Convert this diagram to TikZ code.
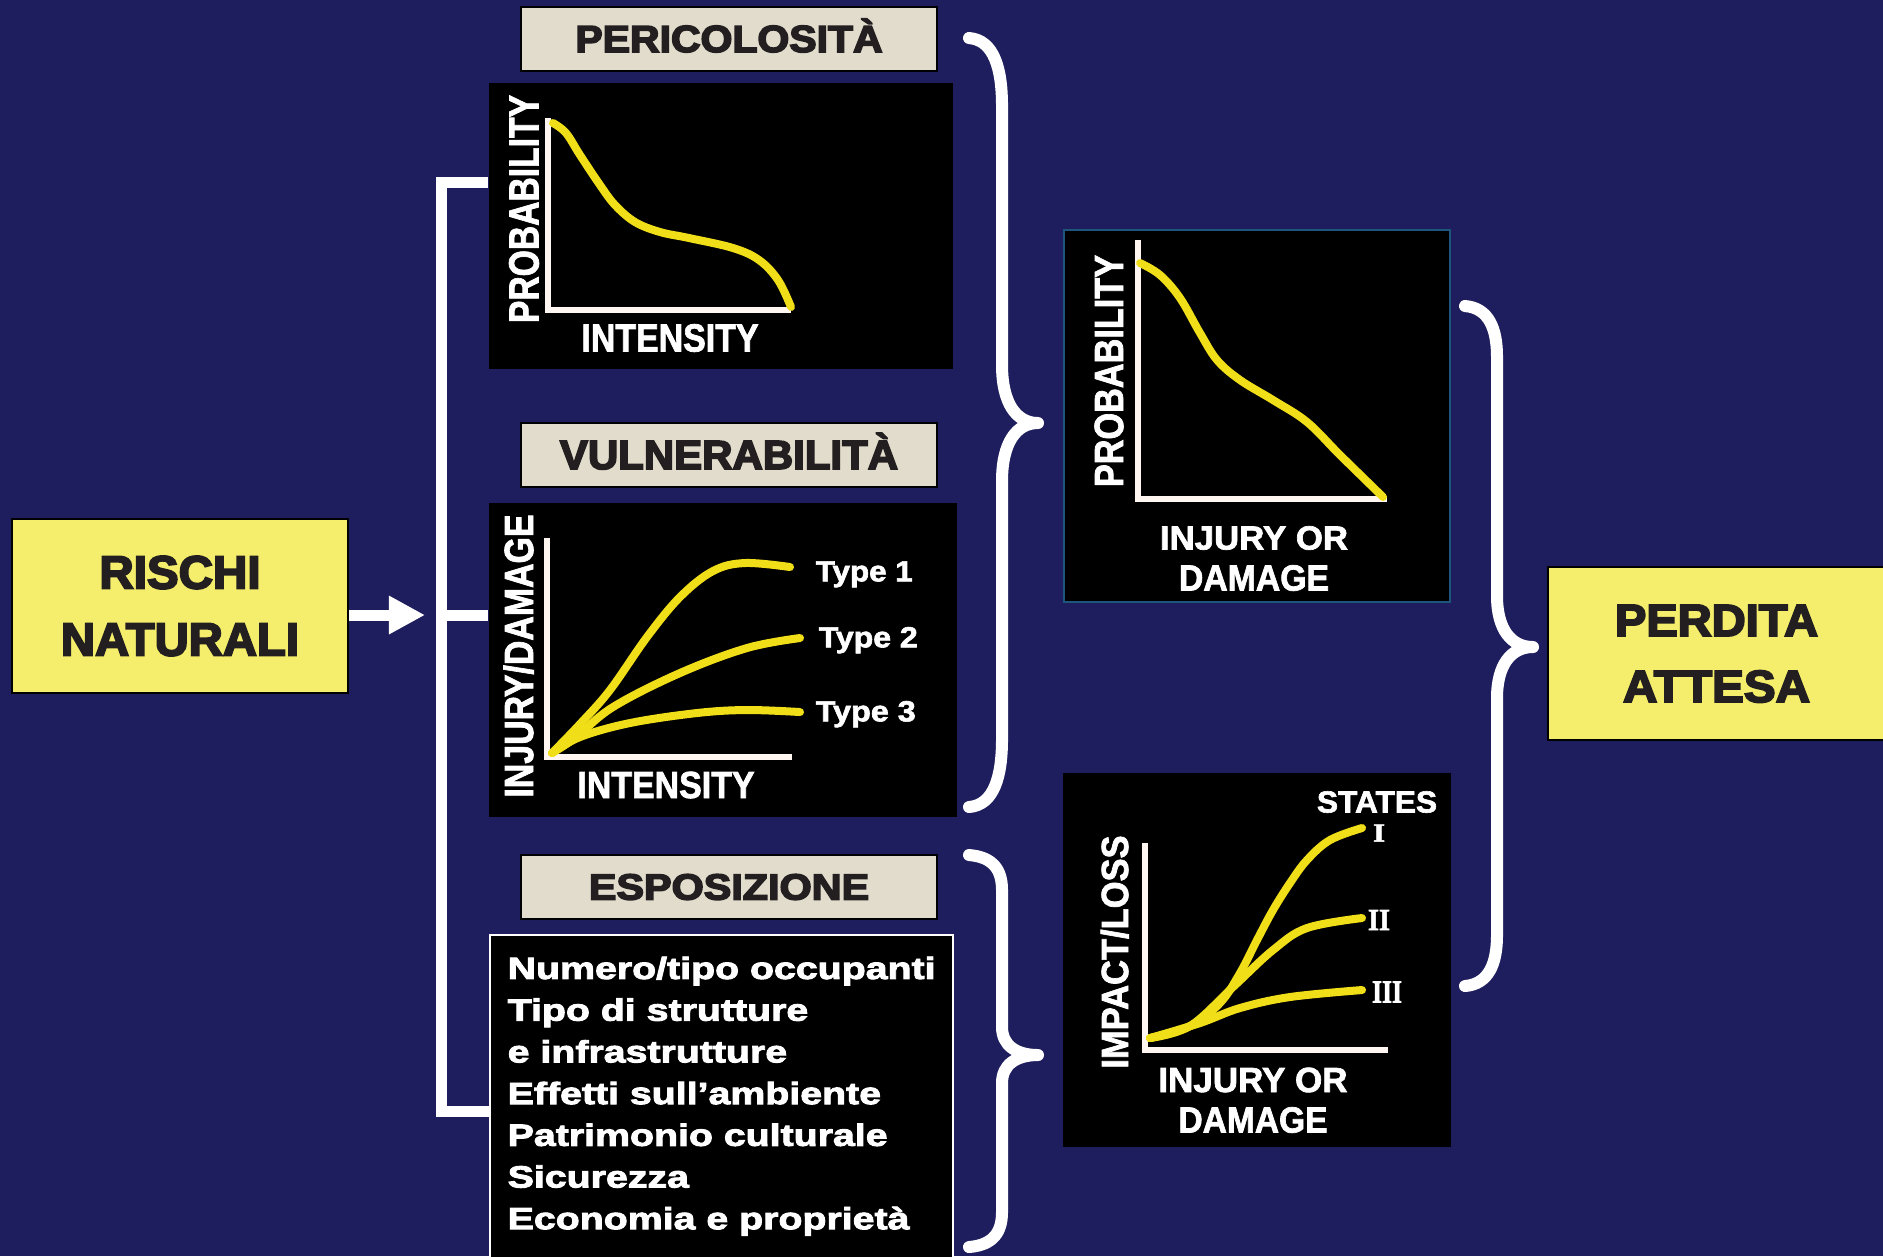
\documentclass[tikz,border=0pt]{standalone}
\usepackage{fontspec}
\usepackage{graphicx}
\usetikzlibrary{arrows.meta}
\setmainfont{Liberation Sans}
\newfontfamily\heavyfont{Liberation Sans}[FakeBold=4]
\newfontfamily\bodyfont{Liberation Sans}[FakeStretch=1.28,FakeBold=3]
\newfontfamily\labelfont{Liberation Sans}[FakeBold=2]
\newfontfamily\romanfont{Liberation Serif}[FakeBold=2]
\newlength\pxu
\setlength\pxu{0.28453pt}
\newcommand\fitcap[3]{\resizebox{#1\pxu}{#2\pxu}{\raisebox{0pt}[\fontcharht\font`H][0pt]{#3}}}
\definecolor{bg}{RGB}{30,30,94}
\definecolor{ylw}{RGB}{245,238,108}
\definecolor{beige}{RGB}{226,220,204}
\definecolor{curvey}{RGB}{240,222,24}
\definecolor{axisw}{RGB}{255,246,242}
\definecolor{tealb}{RGB}{30,85,125}
\definecolor{ink}{RGB}{35,31,32}
\newcommand\curlybrace[8]{%
\draw[bracestroke] (#1,#4) .. controls ({#2-8},{#4+2}) and (#2,{#4+#7*0.45}) .. (#2,{#4+#7})
 -- (#2,{#5-#8}) .. controls (#2,{#5-#8*0.35}) and ({#3-22},#5) .. (#3,#5)
 .. controls ({#3-22},#5) and (#2,{#5+#8*0.35}) .. (#2,{#5+#8})
 -- (#2,{#6-#7}) .. controls (#2,{#6-#7*0.45}) and ({#2-8},{#6-2}) .. (#1,#6);}
\begin{document}
\begin{tikzpicture}[x=0.01cm,y=-0.01cm,
  ybox/.style={draw=black,line width=2\pxu,fill=ylw,inner sep=0pt,align=center,text=ink},
  tagbox/.style={draw=black,line width=2\pxu,fill=beige,inner sep=0pt,text=ink,minimum width=416\pxu,minimum height=64\pxu,font=\heavyfont\bfseries},
  chartbox/.style={fill=black,inner sep=0pt},
  txtbox/.style={fill=black,draw=white,line width=2\pxu,inner sep=0pt},
  axisline/.style={draw=axisw,line width=6\pxu,line join=miter},
  ycurve/.style={draw=curvey,line width=8\pxu,line cap=round},
  lbl/.style={text=white,inner sep=0pt,font=\labelfont\bfseries},
  bracketline/.style={draw=white,line width=11\pxu},
  bracestroke/.style={draw=white,line width=12\pxu,line cap=round,line join=round}]
\clip (0,0) rectangle (1883,1256);
\fill[bg] (0,0) rectangle (1883,1256);

% main boxes
\node[ybox,minimum width=336\pxu,minimum height=174\pxu,font=\heavyfont\bfseries\fontsize{12pt}{19.06pt}\selectfont] (R) at (180,606)
  {\fitcap{161}{32}{RISCHI}\\\fitcap{238}{32}{NATURALI}};
\node[ybox,minimum width=337\pxu,minimum height=173\pxu,font=\heavyfont\bfseries\fontsize{12pt}{18.78pt}\selectfont] (PA) at (1716.5,653.5)
  {\fitcap{203}{31}{PERDITA}\\\fitcap{187}{31}{ATTESA}};

% tag boxes
\node[tagbox] (P) at (729,39) {\fitcap{307}{26}{PERICOLOSITÀ}};
\node[tagbox] (V) at (729,455) {\fitcap{338}{28}{VULNERABILITÀ}};
\node[tagbox] (E) at (729,887) {\fitcap{280}{25}{ESPOSIZIONE}};

% chart boxes
\node[chartbox,minimum width=464\pxu,minimum height=286\pxu] (C1) at (721,226) {};
\node[chartbox,minimum width=468\pxu,minimum height=314\pxu] (C2) at (723,660) {};
\node[chartbox,draw=tealb,line width=1.5\pxu,minimum width=386\pxu,minimum height=372\pxu] (C3) at (1257,416) {};
\node[chartbox,minimum width=388\pxu,minimum height=374\pxu] (C4) at (1257,960) {};
\node[txtbox,minimum width=463\pxu,minimum height=335\pxu] (T) at (721.5,1102.5) {};

% exposure list
\node[anchor=north west,inner sep=0pt,text=white,align=left,font=\bodyfont\bfseries\fontsize{8.73pt}{11.86pt}\selectfont] (TL) at (507,956)
 {Numero/tipo occupanti\\Tipo di strutture\\e infrastrutture\\Effetti sull’ambiente\\Patrimonio culturale\\Sicurezza\\Economia e proprietà};

% chart 1
\draw[axisline] (548,118) -- (548,310) -- (791,310);
\draw[ycurve] plot[smooth,tension=0.6] coordinates {(553,123) (566,133) (580,155) (600,185) (615,205) (635,222) (660,232) (689,238) (733,248) (759,260) (778,280) (791,307)};
\node[lbl,rotate=90] (C1y) at (524,209) {\fitcap{228}{29}{PROBABILITY}};
\node[lbl] (C1x) at (670,338) {\fitcap{177}{27}{INTENSITY}};

% chart 2
\draw[axisline] (547,538) -- (547,757) -- (792,757);
\draw[ycurve] plot[smooth,tension=0.6] coordinates {(552,753) (580,724) (610,690) (647,637) (680,597) (713,571) (745,563) (790,567)};
\draw[ycurve] plot[smooth,tension=0.6] coordinates {(552,753) (575,738) (613,707) (680,673) (747,648) (800,638)};
\draw[ycurve] plot[smooth,tension=0.6] coordinates {(552,753) (580,737) (630,723) (697,713) (747,710) (800,712)};
\node[lbl,rotate=90] (C2y) at (519,656) {\fitcap{283}{28}{INJURY/DAMAGE}};
\node[lbl] (C2x) at (666,785) {\fitcap{177}{26}{INTENSITY}};
\node[lbl,anchor=south west] (t1) at (815,582) {\fitcap{97}{20}{Type 1}};
\node[lbl,anchor=south west] (t2) at (818,648) {\fitcap{99}{20}{Type 2}};
\node[lbl,anchor=south west] (t3) at (815,722) {\fitcap{100}{20}{Type 3}};

% chart 3
\draw[axisline] (1138,240) -- (1138,499) -- (1387,499);
\draw[ycurve] plot[smooth,tension=0.6] coordinates {(1140,263) (1160,275) (1180,298) (1200,333) (1217,360) (1240,380) (1273,400) (1307,422) (1340,455) (1383,497)};
\node[lbl,rotate=90] (C3y) at (1109,371) {\fitcap{232}{28}{PROBABILITY}};
\node[lbl] (C3x1) at (1254,538) {\fitcap{188}{23}{INJURY OR}};
\node[lbl] (C3x2) at (1254,578) {\fitcap{150}{25}{DAMAGE}};

% chart 4
\draw[axisline] (1145,843) -- (1145,1050) -- (1388,1050);
\draw[ycurve] plot[smooth,tension=0.6] coordinates {(1150,1038) (1190,1026) (1220,1003) (1240,973) (1257,940) (1273,910) (1290,883) (1307,860) (1330,840) (1362,828)};
\draw[ycurve] plot[smooth,tension=0.6] coordinates {(1150,1038) (1190,1026) (1233,987) (1273,950) (1307,928) (1362,918)};
\draw[ycurve] plot[smooth,tension=0.6] coordinates {(1150,1038) (1200,1023) (1240,1008) (1290,997) (1362,990)};
\node[lbl,rotate=90] (C4y) at (1115,952) {\fitcap{233}{26}{IMPACT/LOSS}};
\node[lbl] (C4x1) at (1253,1080) {\fitcap{189}{24}{INJURY OR}};
\node[lbl] (C4x2) at (1253,1120) {\fitcap{149}{25}{DAMAGE}};
\node[lbl] (st) at (1377,802) {\fitcap{120}{21}{STATES}};
\node[lbl,font=\romanfont\bfseries] (s1) at (1379,833) {\fitcap{12}{17}{I}};
\node[lbl,font=\romanfont\bfseries] (s2) at (1379,920) {\fitcap{22}{20}{II}};
\node[lbl,font=\romanfont\bfseries] (s3) at (1387,992) {\fitcap{30}{21}{III}};

% arrow and bracket
\coordinate (tip) at (425,615);
\coordinate (split) at (441,615);
\coordinate (bt) at (441,182.5);
\coordinate (bb) at (441,1111);
\draw[white,line width=3.13pt,-{Triangle[length=10.24pt,width=10.24pt]}] (R.east |- tip) -- (tip);
\draw[bracketline,line join=miter] (bt -| C1.west) -- (bt) -- (bb) -- (bb -| T.west);
\draw[bracketline] (split) -- (split -| C2.west);

% braces
\curlybrace{969}{1002}{1038}{38}{423}{807}{68}{58}
\curlybrace{969}{1002}{1038}{855}{1055}{1247}{35}{28}
\curlybrace{1465}{1497}{1533}{306}{647}{986}{51}{51}
\end{tikzpicture}
\end{document}
